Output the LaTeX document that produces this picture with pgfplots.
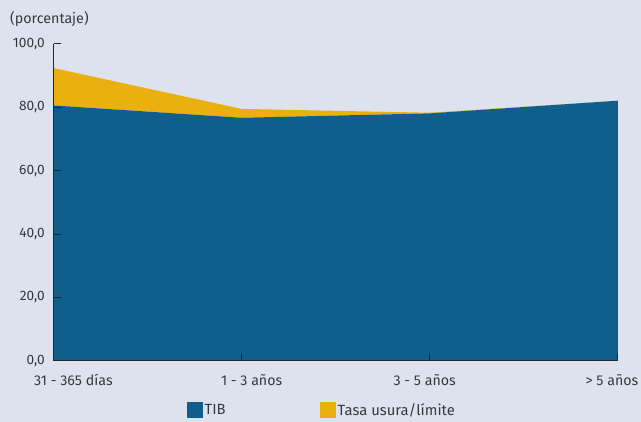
\documentclass[border=0pt]{standalone}
\usepackage{pgfplots}
\pgfplotsset{compat=1.18}
\usepackage{fontspec}
\setmainfont{Fira Sans}

\definecolor{bgpanel}{HTML}{DDE3EE}
\definecolor{tibblue}{HTML}{0F5E8C}
\definecolor{usuragold}{HTML}{EAB010}
\definecolor{txtgray}{HTML}{363A40}

\begin{document}
\begin{tikzpicture}[x=1pt,y=1pt]
  \fill[bgpanel] (0,0) rectangle (641,422);
  \node[anchor=west, inner sep=0pt, text=txtgray, font=\fontsize{14.3}{16}\selectfont]
    at (10,403) {(porcentaje)};
  \begin{axis}[
    at={(53.5pt,61.3pt)}, anchor=south west,
    scale only axis, width=564.5pt, height=316.7pt,
    xmin=0, xmax=3, ymin=0, ymax=100,
    stack plots=y,
    axis on top,
    axis x line=bottom, axis y line=left,
    axis line style={-, black!85, line width=1pt},
    tick align=inside,
    major tick length=7.5pt,
    tick style={black!85, line width=1pt},
    ytick={0,20,40,60,80,100},
    yticklabel style={anchor=east, inner sep=0pt, xshift=-8.5pt, text=txtgray,
      font=\fontsize{13.7}{16}\selectfont,
      /pgf/number format/.cd, fixed, fixed zerofill, precision=1, use comma, 1000 sep={}},
    /pgf/number format/assume math mode=true,
    xtick={0,1,2,3}, xticklabels={},
    extra x ticks={0.106,1.053,1.973,2.968},
    extra x tick labels={31 - 365 días, 1 - 3 años, 3 - 5 años, > 5 años},
    extra x tick style={major tick length=0pt,
      xticklabel style={anchor=base, inner sep=0pt, yshift=-25pt, text=txtgray,
        font=\fontsize{14.2}{16}\selectfont}},
    legend columns=2,
    legend style={at={(0.2365,-0.1557)}, anchor=west, draw=none, fill=none,
      inner sep=0pt, text=txtgray, font=\fontsize{14.8}{16}\selectfont,
      nodes={inner sep=1.5pt},
      /tikz/every even column/.append style={column sep=93pt}},
    legend cell align=left,
    legend image code/.code={\fill[#1] (0pt,-8pt) rectangle (16pt,8pt);},
  ]
    \addplot[fill=tibblue, draw=none] coordinates {(0,80.6) (1,76.7) (2,78.1) (3,82.1)} \closedcycle;
    \addlegendentry{TIB}
    \addplot[fill=usuragold, draw=none] coordinates {(0,11.8) (1,2.8) (2,0.2) (3,0.0)} \closedcycle;
    \addlegendentry{Tasa usura/límite}
  \end{axis}
\end{tikzpicture}
\end{document}
